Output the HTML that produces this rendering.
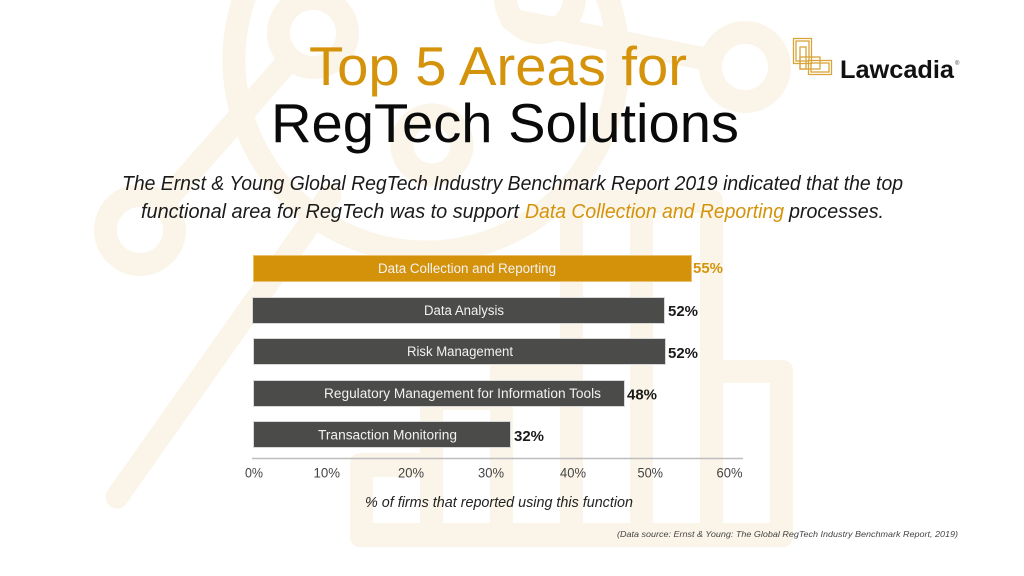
<!DOCTYPE html>
<html>
<head>
<meta charset="utf-8">
<style>
  html, body { margin: 0; padding: 0; background: #ffffff; }
  body { width: 1024px; height: 576px; overflow: hidden; }
  svg { display: block; }
  text { font-family: "Liberation Sans", "DejaVu Sans", sans-serif; }
</style>
</head>
<body>
<svg width="1024" height="576" viewBox="0 0 1024 576" xmlns="http://www.w3.org/2000/svg">
  <rect x="0" y="0" width="1024" height="576" fill="#ffffff"/>

  <!-- Background decorative graphic (faint beige) -->
  <g fill="none" stroke="#fbf5e9" stroke-width="23" stroke-linecap="round">
    <circle cx="426" cy="60" r="192"/>
    <line x1="140" y1="230" x2="313" y2="33"/>
    <line x1="512" y1="20" x2="745" y2="67"/>
    <line x1="117" y1="497" x2="330" y2="195"/>
    <circle cx="140" cy="230" r="34.5"/>
    <circle cx="313" cy="33" r="34.5"/>
    <circle cx="745" cy="67" r="34.5"/>
    <circle cx="540" cy="-2" r="34.5"/>
    <circle cx="432" cy="145" r="30"/>
  </g>
  <g fill="#ffffff">
    <circle cx="140" cy="230" r="23"/>
    <circle cx="313" cy="33" r="23"/>
    <circle cx="745" cy="67" r="23"/>
  </g>
  <!-- bar chart icon -->
  <g fill="#fbf5e9">
    <rect x="350" y="453" width="93" height="94" rx="10"/>
    <rect x="420" y="387" width="93" height="160" rx="10"/>
    <rect x="490" y="357" width="93" height="190" rx="10"/>
    <rect x="560" y="190" width="93" height="357" rx="10"/>
    <rect x="630" y="190" width="93" height="357" rx="10"/>
    <rect x="700" y="360" width="93" height="187" rx="10"/>
    <rect x="350" y="520" width="443" height="27" rx="10"/>
  </g>
  <g fill="#ffffff">
    <rect x="373" y="477" width="47" height="46"/>
    <rect x="443" y="410" width="47" height="113"/>
    <rect x="513" y="380" width="47" height="143"/>
    <rect x="583" y="213" width="47" height="310"/>
    <rect x="653" y="213" width="47" height="310"/>
    <rect x="723" y="383" width="47" height="140"/>
  </g>

  <!-- Title -->
  <text x="309" y="85" font-size="55" fill="#d4930b" textLength="378" lengthAdjust="spacingAndGlyphs">Top 5 Areas for</text>
  <text x="271" y="142" font-size="55" fill="#0a0a0a" textLength="468" lengthAdjust="spacingAndGlyphs">RegTech Solutions</text>

  <!-- Logo -->
  <g fill="none" stroke="#d9a43a" stroke-width="1.3">
    <rect x="793.5" y="38.5" width="18" height="25"/>
    <rect x="796" y="41" width="13" height="20"/>
    <rect x="800" y="47" width="6" height="22"/>
    <rect x="800" y="57" width="20" height="12"/>
    <rect x="808.5" y="60.5" width="23" height="14"/>
    <rect x="811" y="63" width="18" height="9"/>
  </g>
  <text x="840" y="78" font-size="25" font-weight="bold" fill="#111111" textLength="114" lengthAdjust="spacingAndGlyphs">Lawcadia</text>
  <text x="955" y="65" font-size="6" fill="#444">®</text>

  <!-- Subtitle -->
  <text x="122" y="190" font-size="20" font-style="italic" fill="#1a1a1a" textLength="781" lengthAdjust="spacingAndGlyphs">The Ernst &amp; Young Global RegTech Industry Benchmark Report 2019 indicated that the top</text>
  <text x="141" y="218" font-size="20" font-style="italic" fill="#1a1a1a" textLength="378" lengthAdjust="spacingAndGlyphs">functional area for RegTech was to support</text>
  <text x="525" y="218" font-size="20" font-style="italic" fill="#d4930b" textLength="259" lengthAdjust="spacingAndGlyphs">Data Collection and Reporting</text>
  <text x="789" y="218" font-size="20" font-style="italic" fill="#1a1a1a" textLength="95" lengthAdjust="spacingAndGlyphs">processes.</text>

  <!-- Bars -->
  <g stroke="#d8d8d8" stroke-width="1">
    <rect x="253.5" y="255.5" width="438" height="26" fill="#d4920b" stroke="#e9c070"/>
    <rect x="252.5" y="297.5" width="412" height="26" fill="#4b4b49"/>
    <rect x="253.5" y="338.5" width="412" height="26" fill="#4b4b49"/>
    <rect x="253.5" y="380.5" width="371" height="26" fill="#4b4b49"/>
    <rect x="253.5" y="421.5" width="257" height="26" fill="#4b4b49"/>
  </g>

  <!-- Bar labels -->
  <g font-size="13.5" fill="#f2f2f2">
    <text x="378" y="273" textLength="178" lengthAdjust="spacingAndGlyphs">Data Collection and Reporting</text>
    <text x="424" y="315" textLength="80" lengthAdjust="spacingAndGlyphs">Data Analysis</text>
    <text x="407" y="356" textLength="106" lengthAdjust="spacingAndGlyphs">Risk Management</text>
    <text x="324" y="398" textLength="277" lengthAdjust="spacingAndGlyphs">Regulatory Management for Information Tools</text>
    <text x="318" y="439.5" textLength="139" lengthAdjust="spacingAndGlyphs">Transaction Monitoring</text>
  </g>

  <!-- Value labels -->
  <g font-size="15" font-weight="bold">
    <text x="693" y="273" fill="#d4930b" textLength="30" lengthAdjust="spacingAndGlyphs">55%</text>
    <text x="668" y="316" fill="#1a1a1a" textLength="30" lengthAdjust="spacingAndGlyphs">52%</text>
    <text x="668" y="358" fill="#1a1a1a" textLength="30" lengthAdjust="spacingAndGlyphs">52%</text>
    <text x="627" y="399.5" fill="#1a1a1a" textLength="30" lengthAdjust="spacingAndGlyphs">48%</text>
    <text x="514" y="441" fill="#1a1a1a" textLength="30" lengthAdjust="spacingAndGlyphs">32%</text>
  </g>

  <!-- Axis -->
  <line x1="252" y1="458.5" x2="743" y2="458.5" stroke="#bdbdbd" stroke-width="1.5"/>
  <g font-size="13.5" fill="#444444">
    <text x="245" y="477.5" textLength="18" lengthAdjust="spacingAndGlyphs">0%</text>
    <text x="313.5" y="477.5" textLength="26.5" lengthAdjust="spacingAndGlyphs">10%</text>
    <text x="398" y="477.5" textLength="26" lengthAdjust="spacingAndGlyphs">20%</text>
    <text x="478" y="477.5" textLength="26" lengthAdjust="spacingAndGlyphs">30%</text>
    <text x="560" y="477.5" textLength="26" lengthAdjust="spacingAndGlyphs">40%</text>
    <text x="637.5" y="477.5" textLength="25.5" lengthAdjust="spacingAndGlyphs">50%</text>
    <text x="716.5" y="477.5" textLength="26" lengthAdjust="spacingAndGlyphs">60%</text>
  </g>
  <text x="365" y="507" font-size="15" font-style="italic" fill="#222222" textLength="268" lengthAdjust="spacingAndGlyphs">% of firms that reported using this function</text>

  <!-- Source -->
  <text x="617" y="537" font-size="8.5" font-style="italic" fill="#444444" textLength="341" lengthAdjust="spacingAndGlyphs">(Data source: Ernst &amp; Young: The Global RegTech Industry Benchmark Report, 2019)</text>
</svg>
</body>
</html>
